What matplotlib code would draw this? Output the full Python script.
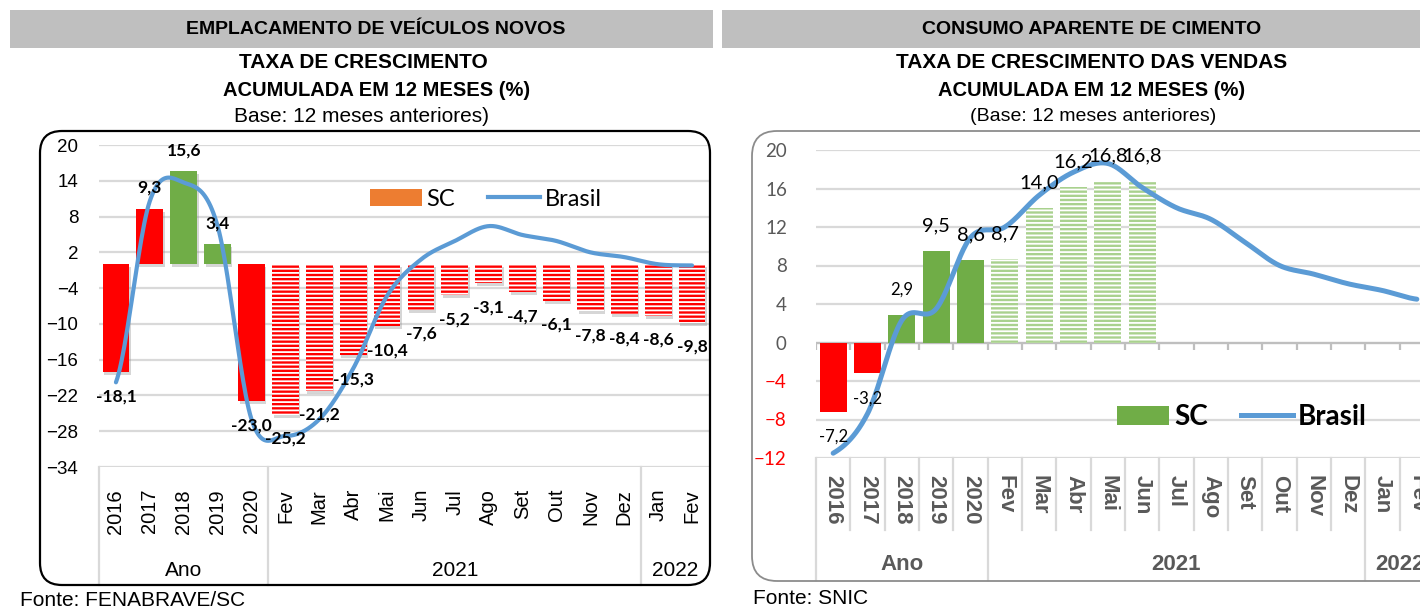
import numpy as np
import matplotlib
matplotlib.use('Agg')
import matplotlib.pyplot as plt
from matplotlib import font_manager
from matplotlib.patches import FancyBboxPatch, Rectangle, Patch
from matplotlib.lines import Line2D
from matplotlib.transforms import offset_copy

# ---- dados ----
categorias = ['2016', '2017', '2018', '2019', '2020', 'Fev', 'Mar', 'Abr', 'Mai',
              'Jun', 'Jul', 'Ago', 'Set', 'Out', 'Nov', 'Dez', 'Jan', 'Fev']
grupos = ['Ano', '2021', '2022']
grupo_inicio = [0, 5, 16]
grupo_fim = [5, 16, 18]

# emplacamento de veiculos novos (%)
veic_sc = [-18.1, 9.3, 15.6, 3.4, -23.0, -25.2, -21.2, -15.3, -10.4, -7.6, -5.2,
           -3.1, -4.7, -6.1, -7.8, -8.4, -8.6, -9.8]
veic_brasil = [-19.8, 10.6, 13.7, 6.4, -26.0, -28.8, -26.0, -17.5, -5.3, 0.8, 3.9,
               6.4, 4.9, 3.9, 2.0, 1.2, 0.0, -0.2]

# consumo aparente de cimento (%)
cim_sc = [-7.2, -3.2, 2.9, 9.5, 8.6, 8.7, 14.0, 16.2, 16.8, 16.8]
cim_brasil = [-11.5, -7.4, 2.3, 3.5, 10.9, 12.0, 15.3, 17.7, 18.6, 16.1, 14.0,
              12.8, 10.4, 8.0, 7.1, 6.1, 5.4, 4.5]

# ---- estilos ----
VERMELHO = '#FF0000'
VERDE = '#70AD47'
VERDE_CLARO = '#A9D18E'
AZUL = '#5B9BD5'
LARANJA = '#ED7D31'
GRADE = '#D9D9D9'
CINZA_TXT = '#595959'

veic_cor = [VERMELHO, VERMELHO, VERDE, VERDE, VERMELHO] + [VERMELHO] * 13
veic_hatch = [None] * 5 + ['----'] * 13
cim_cor = [VERMELHO, VERMELHO, VERDE, VERDE, VERDE] + [VERDE_CLARO] * 5
cim_hatch = [None] * 5 + ['----'] * 5
cim_tam = [12, 12, 12] + [14.5] * 7


def tem_fonte(nome):
    try:
        font_manager.findfont(nome, fallback_to_default=False)
        return True
    except ValueError:
        return False


NARROW = 'Liberation Sans Narrow' if tem_fonte('Liberation Sans Narrow') else 'Liberation Sans'
ARIAL = 'Liberation Sans'
CALIBRI = 'Lato'

plt.rcParams['hatch.linewidth'] = 1.3

W, H = 1420, 611


def fx(px):
    return px / W


def fy(py):
    return 1 - py / H


def suaviza(y, n=24):
    # curva suave tipo excel (catmull-rom)
    y = np.asarray(y, float)
    p = np.concatenate([[y[0]], y, [y[-1]]])
    xs, ys = [], []
    t = np.linspace(0, 1, n, endpoint=False)
    for i in range(len(y) - 1):
        p0, p1, p2, p3 = p[i], p[i + 1], p[i + 2], p[i + 3]
        ys.append(0.5 * (2 * p1 + (-p0 + p2) * t + (2 * p0 - 5 * p1 + 4 * p2 - p3) * t ** 2
                         + (-p0 + 3 * p1 - 3 * p2 + p3) * t ** 3))
        xs.append(i + t)
    xs.append([len(y) - 1])
    ys.append([y[-1]])
    return np.concatenate(xs), np.concatenate(ys)


def fmt(v):
    return ('%.1f' % v).replace('.', ',')


fig = plt.figure(figsize=(W / 100, H / 100), dpi=100)

# ---- cabecalhos ----
fig.add_artist(Rectangle((fx(10), fy(48)), fx(703), 38 / H, transform=fig.transFigure,
                         color='#BFBFBF', lw=0))
fig.add_artist(Rectangle((fx(722), fy(48)), fx(698), 38 / H, transform=fig.transFigure,
                         color='#BFBFBF', lw=0))
fig.text(fx(376), fy(29), 'EMPLACAMENTO DE VEÍCULOS NOVOS', family=NARROW, weight='bold',
         size=14, ha='center', va='center')
fig.text(fx(1092), fy(29), 'CONSUMO APARENTE DE CIMENTO', family=NARROW, weight='bold',
         size=14, ha='center', va='center')
fig.text(fx(363), fy(62), 'TAXA DE CRESCIMENTO', family=NARROW, weight='bold', size=15,
         ha='center', va='center')
fig.text(fx(377), fy(90), 'ACUMULADA EM 12 MESES (%)', family=NARROW, weight='bold', size=14.5,
         ha='center', va='center')
fig.text(fx(362), fy(117), 'Base: 12 meses anteriores)', family=NARROW, size=15,
         ha='center', va='center')
fig.text(fx(1092), fy(62), 'TAXA DE CRESCIMENTO DAS VENDAS', family=NARROW, weight='bold',
         size=15, ha='center', va='center')
fig.text(fx(1092), fy(90), 'ACUMULADA EM 12 MESES (%)', family=NARROW, weight='bold', size=14.5,
         ha='center', va='center')
fig.text(fx(1093), fy(117), '(Base: 12 meses anteriores)', family=NARROW, size=14,
         ha='center', va='center')
fig.text(fx(20), fy(600), 'Fonte: FENABRAVE/SC', family=NARROW, size=15, va='center')
fig.text(fx(753), fy(598), 'Fonte: SNIC', family=NARROW, size=15, va='center')

# molduras arredondadas
fig.add_artist(FancyBboxPatch((0.40, 0.26), 6.70, 4.54, boxstyle='round,pad=0,rounding_size=0.22',
                              transform=fig.dpi_scale_trans, fc='none', ec='black', lw=1.6))
fig.add_artist(FancyBboxPatch((7.52, 0.30), 7.20, 4.50, boxstyle='round,pad=0,rounding_size=0.25',
                              transform=fig.dpi_scale_trans, fc='none', ec='#8C8C8C', lw=1.3))

x = np.arange(len(categorias))

# ================= grafico 1: veiculos =================
ax1 = fig.add_axes([fx(99), fy(467), 610 / W, 322 / H])
ax1.set_facecolor('none')
for s in ax1.spines.values():
    s.set_visible(False)
ax1.set_xlim(-0.5, len(categorias) - 0.5)
ax1.set_ylim(-34, 20)
ax1.set_yticks(np.arange(-34, 21, 6))
ax1.yaxis.grid(True, color=GRADE, lw=1.6)
ax1.set_axisbelow(True)
ax1.tick_params(axis='y', length=0, pad=15, labelsize=13.5)
for lb in ax1.get_yticklabels():
    lb.set_family(ARIAL)
ax1.set_xticks([])

sombra = offset_copy(ax1.transData, fig=fig, x=1.5, y=-3, units='dots')
for i, v in enumerate(veic_sc):
    ax1.bar(x[i], v, width=0.79, color='#8C8C8C', alpha=0.35, lw=0, zorder=1.8,
            transform=sombra)
    ax1.bar(x[i], v, width=0.79, color=veic_cor[i], hatch=veic_hatch[i],
            edgecolor='white' if veic_hatch[i] else veic_cor[i], lw=0, zorder=2)
    ax1.annotate(fmt(v), (x[i], v), xytext=(0, 15 if v > 0 else -17.5), textcoords='offset points',
                 ha='center', va='center', family=CALIBRI, weight='bold', size=12.5, zorder=5)

xs, ys = suaviza(veic_brasil)
ax1.plot(xs, ys, color=AZUL, lw=3, solid_capstyle='round', zorder=4)

tr1 = ax1.get_xaxis_transform()
for i, c in enumerate(categorias):
    ax1.text(x[i], -0.068, c, transform=tr1, rotation=90, ha='center', va='top',
             family=ARIAL, size=14.5)
for g, a, b in zip(grupos, grupo_inicio, grupo_fim):
    ax1.text((a + b - 1) / 2, -0.32, g, transform=tr1, ha='center', va='center',
             family=ARIAL, size=15)
for b in [-0.5, 4.5, 15.5]:
    ax1.plot([b, b], [0, -0.366], transform=tr1, color=GRADE, lw=1.6, clip_on=False)

leg1 = [Patch(facecolor=LARANJA, edgecolor='none'), Line2D([], [], color=AZUL, lw=3)]
fig.legend(leg1, ['SC', 'Brasil'], loc='center', bbox_to_anchor=(fx(486), fy(199)), ncol=2,
           frameon=False, prop={'family': CALIBRI, 'size': 17}, handlelength=2.2,
           handletextpad=0.2, columnspacing=1.4, handleheight=0.7)

# ================= grafico 2: cimento =================
ax2 = fig.add_axes([fx(816), fy(458), 618 / W, 308 / H])
ax2.set_facecolor('none')
for s in ax2.spines.values():
    s.set_visible(False)
ax2.set_xlim(-0.5, len(categorias) - 0.5)
ax2.set_ylim(-12, 20)
ax2.set_yticks(np.arange(-12, 21, 4))
ax2.yaxis.grid(True, color=GRADE, lw=1.6)
ax2.set_axisbelow(True)
ax2.tick_params(axis='y', length=0, pad=21, labelsize=13.5)
for lb, v in zip(ax2.get_yticklabels(), np.arange(-12, 21, 4)):
    lb.set_family(CALIBRI)
    lb.set_color(VERMELHO if v < 0 else CINZA_TXT)
ax2.set_xticks([])

# linha do zero com marcas
ax2.axhline(0, color='#BFBFBF', lw=1.6, zorder=1)
ax2.vlines(np.arange(len(categorias) + 1) - 0.5, -0.75, 0, color='#BFBFBF', lw=1.6, zorder=1)

for i, v in enumerate(cim_sc):
    ax2.bar(x[i], v, width=0.79, color=cim_cor[i], hatch=cim_hatch[i],
            edgecolor='white' if cim_hatch[i] else cim_cor[i], lw=0, zorder=2)
    ax2.annotate(fmt(v), (x[i], v), xytext=(0, 18 if v > 0 else -18), textcoords='offset points',
                 ha='center', va='center', family=CALIBRI, size=cim_tam[i], zorder=5)

xs, ys = suaviza(cim_brasil)
ax2.plot(xs, ys, color=AZUL, lw=3.6, solid_capstyle='round', zorder=4)

tr2 = ax2.get_xaxis_transform()
for i, c in enumerate(categorias):
    ax2.text(x[i], -0.055, c, transform=tr2, rotation=-90, ha='center', va='top',
             family=ARIAL, weight='bold', size=16, color=CINZA_TXT)
for g, a, b in zip(grupos, grupo_inicio, grupo_fim):
    ax2.text((a + b - 1) / 2, -0.347, g, transform=tr2, ha='center', va='center',
             family=ARIAL, weight='bold', size=16, color=CINZA_TXT)
for b in np.arange(len(categorias) + 1) - 0.5:
    fundo = -0.396 if b in (-0.5, 4.5, 15.5, 17.5) else -0.234
    ax2.plot([b, b], [0, fundo], transform=tr2, color=GRADE, lw=1.6, clip_on=False)

leg2 = [Patch(facecolor=VERDE, edgecolor='none'), Line2D([], [], color=AZUL, lw=3.6)]
fig.legend(leg2, ['SC', 'Brasil'], loc='center', bbox_to_anchor=(fx(1242), fy(417)), ncol=2,
           frameon=False, prop={'family': CALIBRI, 'size': 20, 'weight': 'bold'},
           handlelength=1.87, handletextpad=0.18, columnspacing=1.2, handleheight=0.65)

fig.savefig('out.png', dpi=100)
